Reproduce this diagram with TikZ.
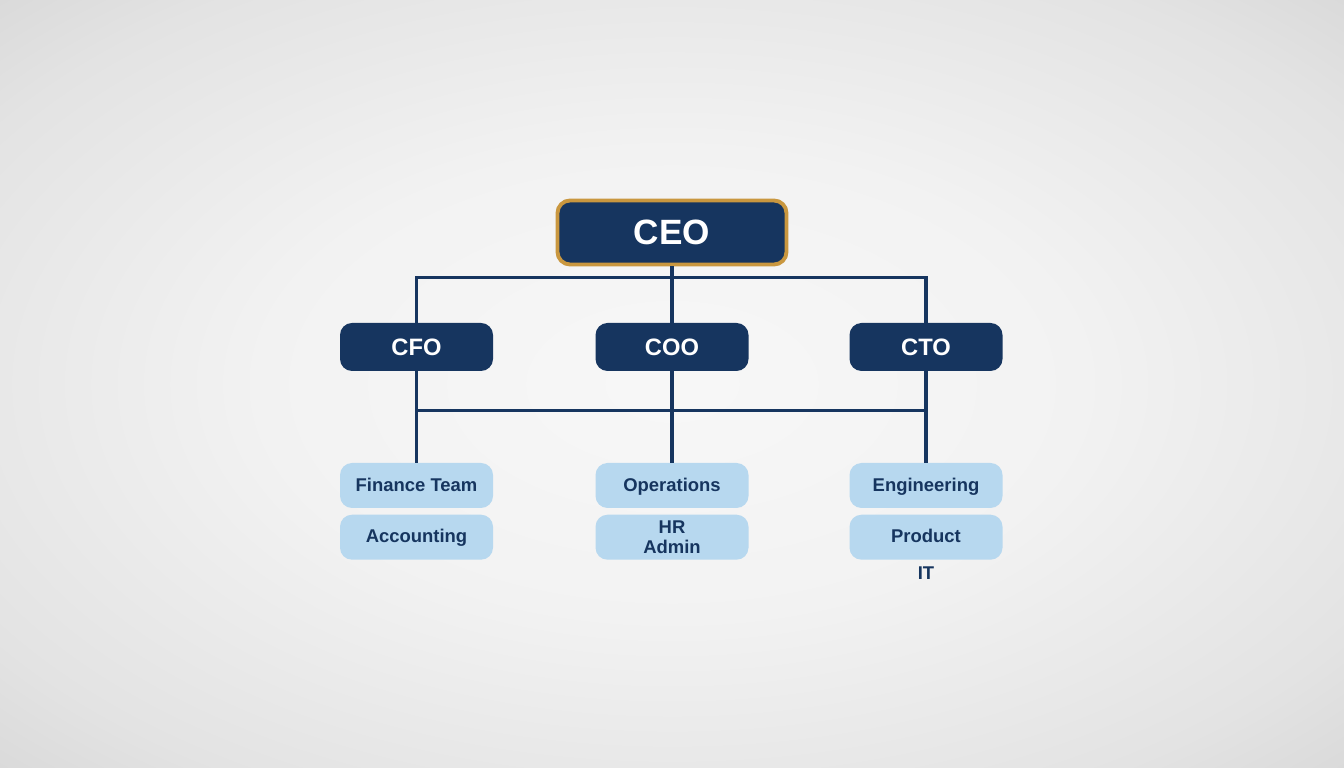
\documentclass[tikz,border=0pt]{standalone}
\usepackage{fontspec}
\setmainfont{Liberation Sans}
\usepackage{xcolor}
\usetikzlibrary{positioning,calc}

\definecolor{navy}{HTML}{16355F}
\definecolor{gold}{HTML}{C9973F}
\definecolor{paleblue}{HTML}{B7D8EF}
\pgfdeclareradialshading{backdrop}{\pgfpoint{0cm}{0cm}}{color(0bp)=(white!97!black); color(15bp)=(white!95!black); color(30bp)=(white!89!black); color(50bp)=(white!76!black)}

\begin{document}
\begin{tikzpicture}[
    node distance=0.12cm,
    ceobox/.style={rectangle, draw=gold, line width=2.2pt, fill=navy, rounded corners=0.25cm, minimum width=4.58cm, minimum height=1.28cm, text=white, font=\fontsize{20}{24}\selectfont\bfseries},
    chief/.style={rectangle, fill=navy, rounded corners=0.24cm, minimum width=3.06cm, minimum height=0.96cm, text=white, font=\fontsize{13.5}{16}\selectfont\bfseries},
    team/.style={rectangle, fill=paleblue, rounded corners=0.24cm, minimum width=3.06cm, minimum height=0.9cm, text=navy, align=center, text height=1.55ex, text depth=0.35ex, font=\fontsize{10.5}{11.5}\selectfont\bfseries},
    link/.style={draw=navy, line width=2pt}
]

% Background
\shade[shading=backdrop] (0,0) rectangle (26.88,15.36);

% Top
\node[ceobox] (ceo) at (13.44,10.71) {CEO};

% Chiefs
\node[chief] (cfo) at (8.33,8.42) {CFO};
\node[chief] (coo) at (13.44,8.42) {COO};
\node[chief] (cto) at (18.52,8.42) {CTO};

% Teams
\node[team] (fin) at (8.33,5.65) {Finance Team};
\node[team, below=of fin] (acc) {Accounting};
\node[team] (ops) at (13.44,5.65) {Operations};
\node[team, text height=, text depth=, below=of ops] (hr) {HR\\Admin};
\node[team] (eng) at (18.52,5.65) {Engineering};
\node[team, below=of eng] (prod) {Product};
\node[text=navy, font=\fontsize{10.5}{12}\selectfont\bfseries, below=0.02cm of prod] (it) {IT};

% Links
\path (ceo.south) ++(0,-0.22) coordinate (topbus);
\draw[link] (ceo.south) -- (topbus);
\draw[link] (topbus) -| (cfo.north);
\draw[link] (topbus) -- (coo.north);
\draw[link] (topbus) -| (cto.north);

\path (cfo.south) ++(0,-0.78) coordinate (lowL);
\path (cto.south) ++(0,-0.78) coordinate (lowR);
\draw[link] (cfo.south) -- (fin.north);
\draw[link] (coo.south) -- (ops.north);
\draw[link] (cto.south) -- (eng.north);
\draw[link] (lowL) -- (lowR);

\end{tikzpicture}
\end{document}
